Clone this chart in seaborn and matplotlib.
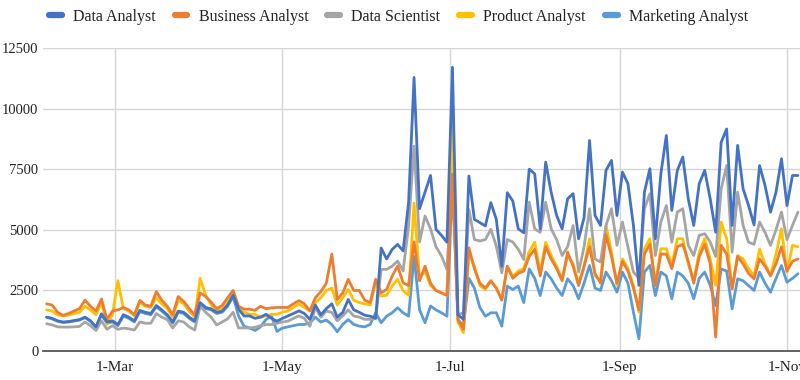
import matplotlib
matplotlib.use("Agg")
import matplotlib.pyplot as plt
from matplotlib.lines import Line2D
import pandas as pd
import seaborn as sns

# ---- data (one point every 2 days) ----
dates = pd.date_range("2023-02-04", periods=138, freq="2D")

data_analyst = [
    1400, 1350, 1250, 1200, 1220, 1260, 1300, 1400, 1250, 1000,
    1540, 1200, 1250, 1100, 1500, 1400, 1250, 1680, 1600, 1550,
    1880, 1700, 1500, 1200, 1650, 1600, 1400, 1250, 2000, 1800,
    1740, 1600, 1650, 1900, 2300, 1730, 1450, 1450, 1350, 1400,
    1520, 1350, 1235, 1350, 1450, 1550, 1660, 1550, 1305, 1900,
    1500, 1750, 1950, 1400, 1600, 2130, 1700, 1600, 1480, 1440,
    1350, 4250, 3800, 4190, 4400, 4130, 6120, 11280, 5870, 6550,
    7240, 5020, 4770, 4490, 11700, 1500, 1310, 7220, 5430, 5300,
    5160, 6120, 5430, 3500, 6530, 6190, 5040, 4880, 7500, 7310,
    5040, 7790, 6550, 5590, 5040, 6280, 6490, 4630, 5500, 8680,
    5590, 5180, 7450, 7860, 5590, 7380, 6900, 5180, 2710, 6550,
    7520, 4630, 7310, 8890, 5800, 7450, 8000, 6280, 5180, 6900,
    7450, 6280, 4900, 8610, 9160, 5180, 8480, 6690, 6000, 5200,
    7650, 6830, 5730, 6550, 7930, 6000, 7240, 7240,
]
business_analyst = [
    1950, 1900, 1600, 1470, 1550, 1650, 1750, 2100, 1850, 1650,
    2150, 1300, 1650, 1700, 1800, 1700, 1500, 2090, 1900, 1850,
    2450, 2100, 1850, 1500, 2250, 2050, 1750, 1500, 2400, 2250,
    2020, 1750, 1880, 2200, 2500, 1850, 1730, 1730, 1680, 1850,
    1750, 1780, 1800, 1800, 1800, 1950, 2080, 1950, 1660, 2200,
    2450, 2800, 4000, 2130, 2400, 2960, 2500, 2500, 2100, 2000,
    2960, 2410, 2540, 3090, 3510, 2820, 2700, 4500, 2900, 3500,
    2800, 2500, 2400, 2300, 7300, 1300, 900, 4260, 3400, 2800,
    2600, 2900, 2600, 2100, 3500, 3000, 3200, 3300, 3900, 4200,
    3100, 4300, 3800, 3400, 2900, 4080, 3500, 2700, 3500, 4300,
    3200, 2800, 4800, 3900, 2800, 3700, 3300, 2600, 1700, 4000,
    4400, 2700, 4000, 4000, 3400, 4300, 4400, 3700, 2800, 3900,
    4400, 3600, 580, 4360, 4000, 2570, 3900, 3600, 3200, 2980,
    3800, 3500, 3100, 3600, 4300, 3300, 3700, 3800,
]
data_scientist = [
    1130, 1080, 1000, 990, 990, 1000, 1020, 1200, 1050, 850,
    1250, 900, 1050, 900, 950, 920, 870, 1200, 1150, 1150,
    1550, 1400, 1300, 950, 1250, 1200, 1000, 870, 1850, 1600,
    1400, 1080, 1200, 1330, 1600, 955, 955, 955, 980, 1050,
    1095, 1095, 1150, 1200, 1235, 1350, 1450, 1350, 1025, 1800,
    1400, 1650, 1600, 1250, 1450, 1700, 1450, 1400, 1310, 1310,
    1350, 3370, 3370, 3500, 3710, 3300, 5160, 8450, 4500, 5570,
    5040, 4300, 3920, 3370, 7300, 1500, 1580, 5840, 4600, 4540,
    4600, 5020, 4330, 3230, 4600, 4500, 4200, 3780, 6140, 5040,
    4900, 6140, 5040, 4600, 3940, 4300, 5180, 3260, 4300, 5870,
    3800, 3670, 5180, 5870, 4360, 5320, 4300, 3260, 3000, 5870,
    6490, 3940, 5320, 6000, 4490, 5730, 5870, 4360, 3940, 4770,
    4840, 4500, 3900, 6690, 7650, 4080, 6550, 5180, 4490, 4400,
    5320, 4900, 4360, 5000, 5730, 4600, 5180, 5730,
]
product_analyst = [
    1700, 1650, 1500, 1450, 1480, 1550, 1600, 1850, 1700, 1500,
    2000, 1100, 1500, 2900, 1750, 1650, 1450, 2000, 1850, 1800,
    2200, 1950, 1750, 1400, 2100, 1950, 1650, 1400, 3000, 2300,
    1900, 1650, 1800, 2050, 2450, 1750, 1600, 1520, 1520, 1400,
    1450, 1520, 1520, 1600, 1660, 1800, 1940, 1800, 1660, 2000,
    2200, 2500, 2600, 1900, 2200, 2540, 2100, 2000, 1950, 1900,
    2820, 2270, 2300, 2680, 2960, 2500, 2300, 6100, 3000, 3300,
    2700, 2500, 2400, 2290, 9500, 1200, 760, 4060, 3500, 2700,
    2540, 2890, 2600, 2130, 3500, 3090, 3300, 3400, 4100, 4490,
    3260, 4490, 3940, 3500, 2980, 3940, 3600, 2780, 3500, 4630,
    3100, 2910, 5180, 4080, 2710, 3800, 3400, 2710, 1610, 4220,
    4630, 2710, 4220, 4220, 3530, 4630, 4630, 3600, 2910, 4080,
    4630, 3800, 2710, 5320, 4630, 2570, 3940, 3800, 3400, 3100,
    4200, 3600, 3120, 4000, 5040, 3260, 4360, 4300,
]
marketing_analyst = [
    1400, 1330, 1230, 1180, 1200, 1240, 1280, 1380, 1230, 980,
    1500, 1150, 1200, 1050, 1450, 1350, 1200, 1630, 1550, 1500,
    1830, 1650, 1450, 1150, 1600, 1550, 1350, 1200, 1950, 1750,
    1700, 1550, 1600, 1850, 2250, 1450, 1025, 955, 850, 1000,
    1300, 1450, 815, 950, 1000, 1050, 1095, 1100, 1165, 1400,
    1200, 1280, 1100, 800, 1100, 1300, 1100, 1030, 1000, 1100,
    1580, 1170, 1440, 1580, 1790, 1580, 1440, 3900, 1700, 1170,
    1860, 1700, 1580, 1440, 7000, 1300, 1030, 3000, 2600, 1800,
    1440, 1580, 1580, 1030, 2680, 2540, 2680, 2000, 3390, 3000,
    2290, 3260, 2980, 2600, 2290, 2980, 2700, 2160, 2800, 3530,
    2600, 2500, 3260, 2900, 2430, 3260, 2800, 1610, 510, 3260,
    3530, 2290, 3260, 3100, 2160, 3260, 3100, 2800, 2160, 3000,
    3260, 2710, 1880, 3390, 3300, 1740, 2980, 2900, 2700, 2500,
    3260, 2800, 2430, 3000, 3530, 2840, 3000, 3190,
]

series_names = ["Data Analyst", "Business Analyst", "Data Scientist",
                "Product Analyst", "Marketing Analyst"]
series_colors = ["#4472C4", "#ED7D31", "#A5A5A5", "#FFC000", "#5B9BD5"]

x_tick_dates = ["2023-03-01", "2023-05-01", "2023-07-01", "2023-09-01", "2023-11-01"]
x_tick_labels = ["1-Mar", "1-May", "1-Jul", "1-Sep", "1-Nov"]
y_ticks = [0, 2500, 5000, 7500, 10000, 12500]

# ---- long table ----
wide = pd.DataFrame({
    "date": dates,
    "Data Analyst": data_analyst,
    "Business Analyst": business_analyst,
    "Data Scientist": data_scientist,
    "Product Analyst": product_analyst,
    "Marketing Analyst": marketing_analyst,
})
df = wide.melt(id_vars="date", var_name="series", value_name="value")

sns.set_theme(style="white")
plt.rcParams["font.family"] = ["Liberation Serif", "DejaVu Serif"]

fig = plt.figure(figsize=(8, 3.8), dpi=100)
ax = fig.add_axes([0.054, 0.076, 0.946, 0.798])

palette = dict(zip(series_names, series_colors))
sns.lineplot(data=df, x="date", y="value", hue="series", hue_order=series_names,
             palette=palette, linewidth=2.0, ax=ax, legend=False)
for k, line in enumerate(ax.lines):
    line.set_zorder(10 - k)
    line.set_solid_joinstyle("round")

ax.set_xlim(pd.Timestamp("2023-02-02 18:00"), pd.Timestamp("2023-11-05 18:00"))
ax.set_ylim(0, 12500)
ax.set_xticks(pd.to_datetime(x_tick_dates))
ax.set_xticklabels(x_tick_labels)
ax.set_yticks(y_ticks)
ax.set_yticklabels([str(v) for v in y_ticks])
ax.set_xlabel("")
ax.set_ylabel("")

ax.grid(True, color="#d6d6d6", linewidth=1.0)
ax.set_axisbelow(True)
for s in ["top", "right", "left"]:
    ax.spines[s].set_visible(False)
ax.spines["bottom"].set_color("#555555")
ax.spines["bottom"].set_linewidth(1.3)
ax.spines["bottom"].set_zorder(20)
ax.tick_params(axis="both", length=0, colors="#222222")
ax.tick_params(axis="x", pad=7, labelsize=11)
ax.tick_params(axis="y", pad=3.5, labelsize=10.5)

handles = [Line2D([0], [0], color=c, linewidth=4.5, solid_capstyle="round")
           for c in series_colors]
fig.legend(handles, series_names, loc="center", bbox_to_anchor=(0.498, 1 - 17 / 380),
           ncol=5, frameon=False, fontsize=11.5, handlelength=0.8,
           handletextpad=0.7, columnspacing=1.2, labelcolor="#222222")

fig.savefig("out.png", dpi=100)
